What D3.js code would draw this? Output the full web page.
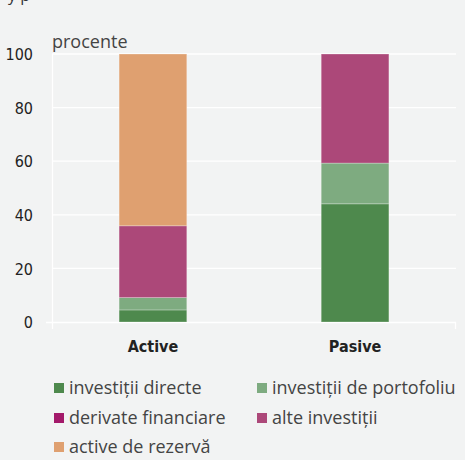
<!DOCTYPE html>
<html><head><meta charset="utf-8">
<script src="https://cdn.jsdelivr.net/npm/d3@7"></script>
<style>body{margin:0;background:#fff}svg{display:block}</style>
</head><body>
<script>
const categories = ["Active", "Pasive"];
const seriesNames = ["investiții directe", "investiții de portofoliu", "derivate financiare", "alte investiții", "active de rezervă"];
const seriesColors = ["#4e894d", "#7eab80", "#a3196a", "#ac4879", "#dfa070"];
const direct = [4.5, 44.1];
const portfolio = [4.6, 15.2];
const derivatives = [0, 0];
const other = [26.8, 40.7];
const reserve = [64.1, 0];
const yTicks = [0, 20, 40, 60, 80, 100];

const W = 465, H = 460;
const svg = d3.select("body").append("svg").attr("width", W).attr("height", H);
svg.append("rect").attr("width", W).attr("height", H).attr("fill", "#f2f3f3");

const condensed = "'DejaVu Sans Condensed','DejaVu Sans',sans-serif";
const m = {left: 52, right: 456, top: 54, bottom: 322};
const x = d3.scaleBand().domain(categories).range([m.left, m.right]).paddingInner(0.665).paddingOuter(0.332);
const y = d3.scaleLinear().domain([0, 100]).range([m.bottom, m.top]);

// gridlines
svg.append("g").selectAll("line").data(yTicks.filter(d => d > 0)).join("line")
  .attr("x1", m.left).attr("x2", m.right).attr("y1", d => y(d)).attr("y2", d => y(d))
  .attr("stroke", "#fff").attr("stroke-width", 1.3);

// axes lines
svg.append("line").attr("x1", m.left + 0.5).attr("x2", m.left + 0.5).attr("y1", m.top).attr("y2", m.bottom + 7).attr("stroke", "#fff").attr("stroke-width", 1.3);
svg.append("line").attr("x1", m.left - 6).attr("x2", m.right).attr("y1", m.bottom + 0.5).attr("y2", m.bottom + 0.5).attr("stroke", "#fff").attr("stroke-width", 1.3);
svg.append("line").attr("x1", m.right - 0.5).attr("x2", m.right - 0.5).attr("y1", m.bottom).attr("y2", m.bottom + 7).attr("stroke", "#fff").attr("stroke-width", 1.3);

// y tick labels
const yAxis = d3.axisLeft(y).tickValues(yTicks).tickSize(0).tickPadding(0);
const ga = svg.append("g").attr("transform", `translate(33,0)`).call(yAxis);
ga.select(".domain").remove();
ga.selectAll("text").attr("font-family", condensed).style("font-stretch", "condensed")
  .attr("font-size", 16).attr("fill", "#222").attr("dy", "0.36em");

// stacked bars
const table = categories.map((c, i) => ({cat: c, s0: direct[i], s1: portfolio[i], s2: derivatives[i], s3: other[i], s4: reserve[i]}));
const stack = d3.stack().keys(["s0", "s1", "s2", "s3", "s4"])(table);
svg.append("g").selectAll("g").data(stack).join("g")
  .attr("fill", (d, i) => seriesColors[i])
  .selectAll("rect").data(d => d).join("rect")
  .attr("x", d => x(d.data.cat)).attr("width", x.bandwidth())
  .attr("y", d => y(d[1])).attr("height", d => Math.max(0, y(d[0]) - y(d[1])))
  .attr("stroke", "rgba(255,255,255,0.35)").attr("stroke-width", 0.8);

// x labels
const xAxis = d3.axisBottom(x).tickSize(0).tickPadding(0);
const gx = svg.append("g").attr("transform", `translate(0,${m.bottom + 20})`).call(xAxis);
gx.select(".domain").remove();
gx.selectAll("text").attr("font-family", condensed).style("font-stretch", "condensed")
  .attr("font-size", 16).attr("fill", "#222").attr("font-weight", "600").attr("dy", "0.6em");

// unit label
svg.append("text").attr("x", 52).attr("y", 48).text("procente")
  .attr("font-family", "'Open Sans',sans-serif").attr("font-size", 18).attr("fill", "#444");

// cut-off title fragment
svg.append("text").attr("x", 8).attr("y", 1).text("y p")
  .attr("font-family", "'Open Sans',sans-serif").attr("font-size", 16).attr("fill", "#333");

// legend
const legPos = [[54, 388], [257, 388], [54, 418], [257, 418], [54, 447]];
const lg = svg.append("g").selectAll("g").data(seriesNames).join("g")
  .attr("transform", (d, i) => `translate(${legPos[i][0]},${legPos[i][1]})`);
lg.append("rect").attr("x", 0).attr("y", -5).attr("width", 10).attr("height", 10).attr("fill", (d, i) => seriesColors[i]);
lg.append("text").attr("x", 15).attr("y", 0).attr("dy", "0.35em").text(d => d)
  .attr("font-family", "'Open Sans',sans-serif").attr("font-size", 18).attr("fill", "#444");
</script>
</body></html>
